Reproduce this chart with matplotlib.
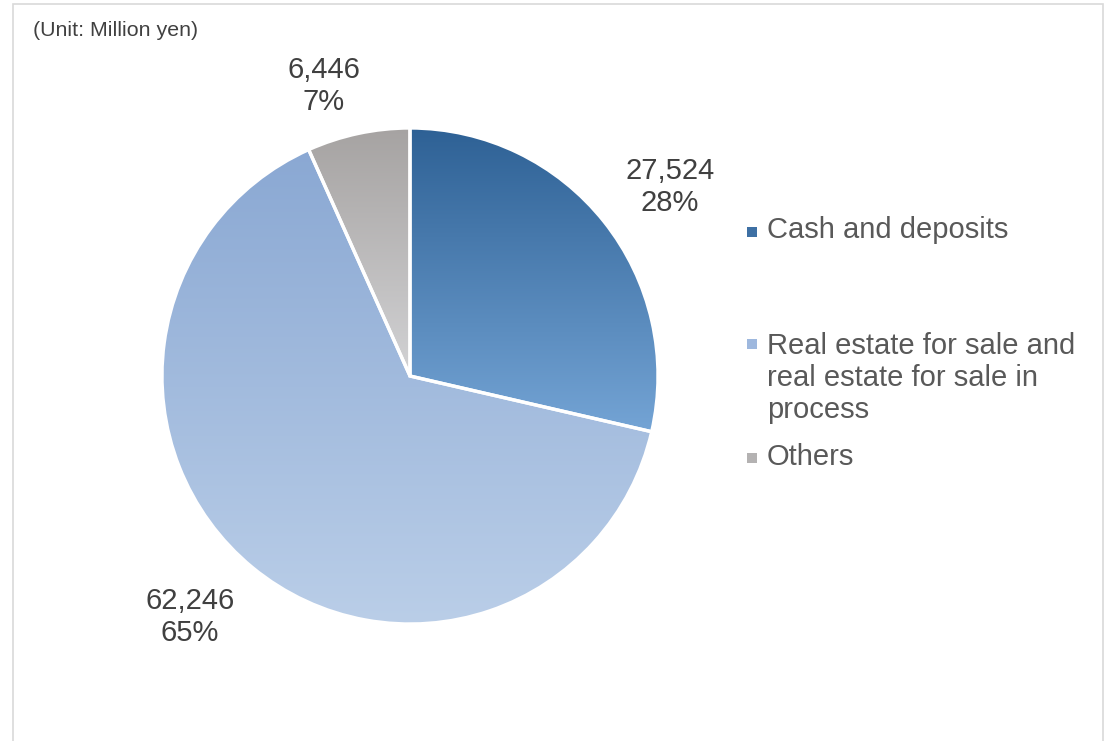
import numpy as np
import matplotlib.pyplot as plt
from matplotlib.colors import LinearSegmentedColormap
from matplotlib.patches import Rectangle

plt.rcParams['font.family'] = ['Liberation Sans', 'DejaVu Sans']

# balance breakdown, million yen
categories = ['Cash and deposits',
              'Real estate for sale and\nreal estate for sale in\nprocess',
              'Others']
values = [27524, 62246, 6446]
pct_labels = ['28%', '65%', '7%']

# gradient (top, bottom) per slice, plus flat colour for the legend key
grad_colors = [('#2E6195', '#74A4D5'),
               ('#8AA8D3', '#BACEE8'),
               ('#A6A3A2', '#D2D2D4')]
key_colors = ['#3E70A4', '#9EB8DE', '#B4B2B2']

W, H = 1107, 741
fig = plt.figure(figsize=(W / 100, H / 100), dpi=100)
ax = fig.add_axes([0, 0, 1, 1])

cx, cy, r = 410, H - 376, 248
wedges, _ = ax.pie(values, center=(cx, cy), radius=r, startangle=90,
                   counterclock=False,
                   wedgeprops=dict(facecolor='none', edgecolor='white',
                                   linewidth=2.4, zorder=3))

# vertical gradient fill clipped to each wedge
grad = np.linspace(0, 1, 256).reshape(-1, 1)
for w, (top, bot) in zip(wedges, grad_colors):
    ext = w.get_path().get_extents()
    cmap = LinearSegmentedColormap.from_list('g', [bot, top])
    im = ax.imshow(grad, extent=[ext.x0, ext.x1, ext.y0, ext.y1],
                   origin='lower', cmap=cmap, aspect='auto', zorder=2,
                   interpolation='bilinear')
    im.set_clip_path(w)

# value / share labels
label_xy = [(670, 187), (190, 617), (324, 86)]
for (lx, ly), v, p in zip(label_xy, values, pct_labels):
    ax.text(lx, H - ly, f'{v:,}\n{p}', ha='center', va='center',
            fontsize=21, color='#404040', linespacing=1.2, zorder=4)

# legend on the right
text_y = [230, 378, 457]
key_y = [232, 344, 458]
for c, name, ty, ky in zip(key_colors, categories, text_y, key_y):
    ax.scatter([752], [H - ky], marker='s', s=52, color=c, zorder=4,
               linewidths=0)
    ax.text(767, H - ty, name, ha='left', va='center', fontsize=21,
            color='#595959', linespacing=1.2, zorder=4)

ax.text(33, H - 30, '(Unit: Million yen)', ha='left', va='center',
        fontsize=15.4, color='#404040')

# chart border
ax.add_patch(Rectangle((13, -20), 1090, H - 4 + 20, facecolor='none',
                       edgecolor='#D9D9D9', linewidth=1.2, zorder=1))

ax.set_xlim(0, W)
ax.set_ylim(0, H)
ax.set_aspect('auto')
ax.axis('off')

fig.savefig('out.png', dpi=100)
